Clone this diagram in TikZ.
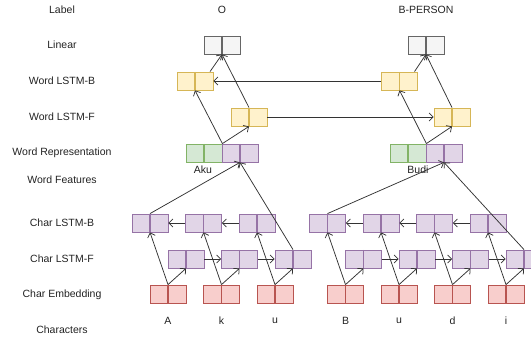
\documentclass[tikz,border=0pt]{standalone}
\usepackage{fontspec}
\setmainfont{Liberation Sans}
\usetikzlibrary{arrows.meta,calc}
\definecolor{linfill}{HTML}{F5F5F5}\definecolor{linline}{HTML}{666666}
\definecolor{yelfill}{HTML}{FFF2CC}\definecolor{yelline}{HTML}{D6B656}
\definecolor{grnfill}{HTML}{D5E8D4}\definecolor{grnline}{HTML}{82B366}
\definecolor{purfill}{HTML}{E1D5E7}\definecolor{purline}{HTML}{9673A6}
\definecolor{redfill}{HTML}{F8CECC}\definecolor{redline}{HTML}{B85450}
\definecolor{txt}{HTML}{222222}
\definecolor{lc}{HTML}{333333}
\begin{document}
\begin{tikzpicture}[x=1pt,y=-1pt,
  cell/.style 2 args={draw=#2, fill=#1, minimum width=36pt, minimum height=18pt, inner sep=0pt, line width=0.8pt,
    path picture={\draw[#2,line width=1.6pt] (path picture bounding box.north) -- (path picture bounding box.south);}},
  linbox/.style={cell={linfill}{linline}},
  yelbox/.style={cell={yelfill}{yelline}},
  grnbox/.style={cell={grnfill}{grnline}},
  purbox/.style={cell={purfill}{purline}},
  redbox/.style={cell={redfill}{redline}},
  lbl/.style={font=\fontsize{10.5}{12}\selectfont, text=txt, inner sep=0pt},
  conn/.style={draw=lc, line width=0.75pt, -{Straight Barb[length=4pt,width=8pt]}}]
\useasboundingbox (0,0) rectangle (531,339);
% left labels
\node[lbl] (l1) at (62,10) {Label};
\node[lbl] (l2) at (62,45) {Linear};
\node[lbl] (l3) at (62,81) {Word LSTM-B};
\node[lbl] (l4) at (62,117) {Word LSTM-F};
\node[lbl] (l5) at (62,153) {Word Representation};
\node[lbl] (l6) at (62,180) {Word Features};
\node[lbl] (l7) at (62,223) {Char LSTM-B};
\node[lbl] (l8) at (62,259) {Char LSTM-F};
\node[lbl] (l9) at (62,295) {Char Embedding};
\node[lbl] (l10) at (62,330) {Characters};
% output labels
\node[lbl] (o1) at (222,10) {O};
\node[lbl] (o2) at (426,10) {B-PERSON};
% word level
\node[linbox] (lin1) at (222,45) {};
\node[linbox] (lin2) at (426,45) {};
\node[yelbox] (wb1) at (195,81) {};
\node[yelbox] (wb2) at (399.5,81) {};
\node[yelbox] (wf1) at (249,117) {};
\node[yelbox] (wf2) at (452,117) {};
\node[grnbox] (wrg1) at (204,153) {};
\node[purbox] (wrp1) at (240,153) {};
\node[grnbox] (wrg2) at (408,153) {};
\node[purbox] (wrp2) at (444,153) {};
\node[lbl] (aku) at (203,170) {Aku};
\node[lbl] (budi) at (418,170) {Budi};
% char level
\foreach \i/\x/\t in {1/168/A,2/221.5/k,3/275/u,4/345.5/B,5/399/u,6/452.5/d,7/506/i} {
  \node[redbox] (e\i) at (\x,294) {};
  \node[purbox] (cb\i) at (\x-18,223) {};
  \node[purbox] (cf\i) at (\x+18,259) {};
  \node[lbl] (ch\i) at (\x,321) {\t};
}
\foreach \i in {1,...,7} {
  \draw[conn] (e\i.north) -- (cb\i.south);
  \draw[conn] (e\i.north) -- (cf\i.south);
}
\foreach \a/\b in {1/2,2/3,4/5,5/6,6/7} {
  \draw[conn] (cb\b.west) -- (cb\a.east);
  \draw[conn] (cf\a.east) -- (cf\b.west);
}
\draw[conn] (cb1.north) -- (wrp1.south);
\draw[conn] (cf3.north) -- (wrp1.south);
\draw[conn] (cb4.north) -- (wrp2.south);
\draw[conn] (cf7.north) -- (wrp2.south);
% word connections
\draw[conn] (wrg1.north east) -- (wb1.south);
\draw[conn] (wrg1.north east) -- (wf1.south);
\draw[conn] (wrg2.north east) -- (wb2.south);
\draw[conn] (wrg2.north east) -- (wf2.south);
\draw[conn] (wb1.32) -- (lin1.south);
\draw[conn] (wf1.north) -- (lin1.south);
\draw[conn] (wb2.32) -- (lin2.south);
\draw[conn] (wf2.north) -- (lin2.south);
\draw[conn] (wb2.west) -- (wb1.east);
\draw[conn] (wf1.east) -- (wf2.west);
\end{tikzpicture}
\end{document}
